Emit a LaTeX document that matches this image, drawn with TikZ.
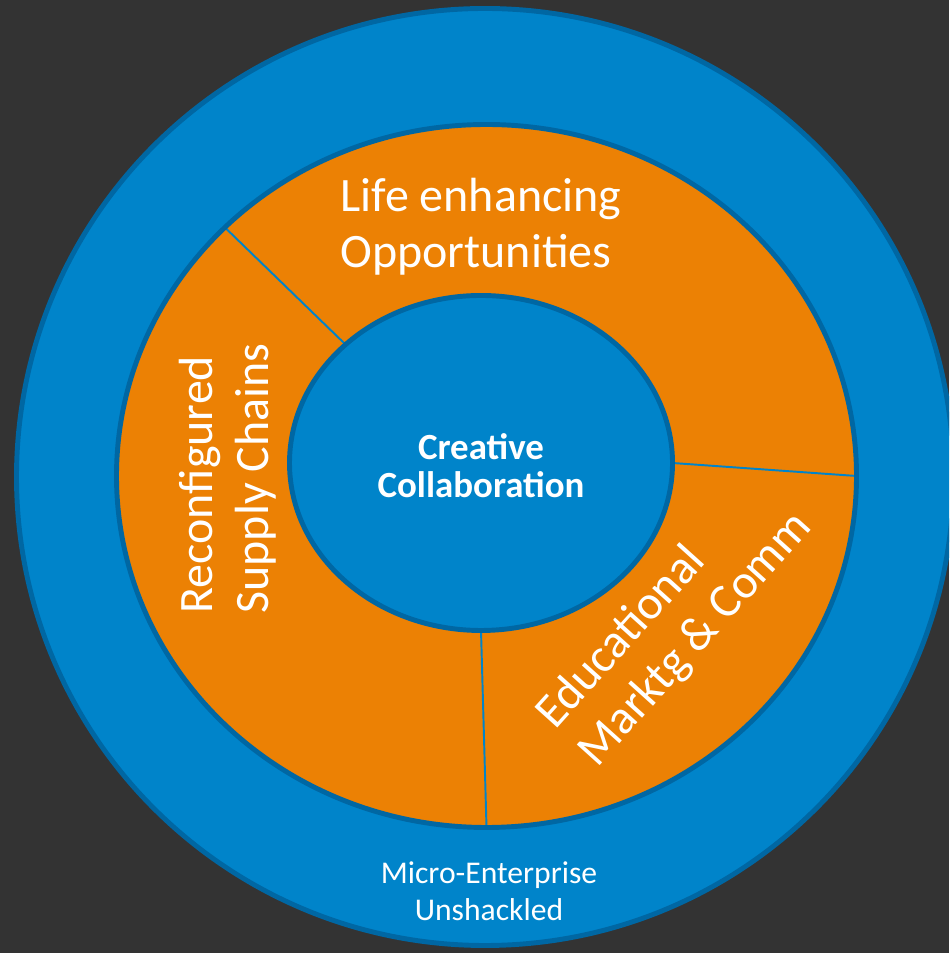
\documentclass[tikz,border=0pt]{standalone}
\usepackage{fontspec}
\setmainfont{Carlito}
\usetikzlibrary{calc}
\definecolor{bgdark}{HTML}{333333}
\definecolor{ringblue}{HTML}{0084CA}
\definecolor{rimblue}{HTML}{0067A3}
\definecolor{ringorange}{HTML}{EC8104}
\begin{document}
\begin{tikzpicture}[
    ringtext/.style={text=white, align=left, font=\fontsize{27.3}{32}\selectfont},
    divider/.style={ringblue, line width=1.1pt},
    rim/.style={rimblue, line width=2.8pt}]
  \useasboundingbox (0,0) rectangle (18.98,19.06);
  \clip (0,0) rectangle (18.98,19.06);
  \fill[bgdark] (0,0) rectangle (18.98,19.06);
  \coordinate (outer) at (9.70,9.52);
  \coordinate (ring) at (9.73,9.54);
  \coordinate (core) at (9.62,9.80);
  \filldraw[rim, fill=ringblue] (outer) circle (9.37);
  \fill[ringorange] (ring) ellipse (7.40 and 7.03);
  \foreach \a in {0,135,270}
    \draw[divider] ($(core)+(\a:3.83 and 3.35)$) -- ($(ring)+(\a:7.40 and 7.03)$);
  \draw[rim] (ring) ellipse (7.40 and 7.03);
  \filldraw[rim, fill=ringblue] (core) ellipse (3.83 and 3.35);
  \node[ringtext] (life) at (9.62,14.52) {Life enhancing\\Opportunities};
  \node[ringtext, rotate=90] (supply) at (4.56,9.49) {Reconfigured\\Supply Chains};
  \node[ringtext, rotate=48] (market) at (13.50,6.64) {Educational\\Marktg \& Comm};
  \node[text=white, align=center, font=\bfseries\fontsize{21}{21.6}\selectfont] (creative) at (9.62,9.74) {Creative\\Collaboration};
  \node[text=white, align=center, font=\fontsize{18}{21}\selectfont] (micro) at (9.78,1.24) {Micro-Enterprise\\Unshackled};
\end{tikzpicture}
\end{document}
